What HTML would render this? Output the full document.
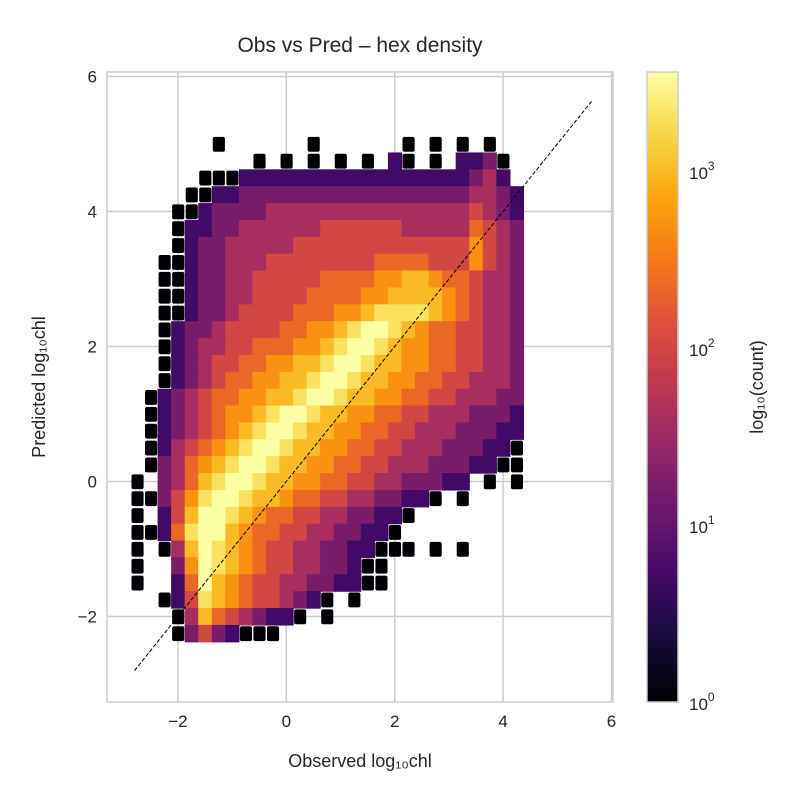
<!DOCTYPE html>
<html><head><meta charset="utf-8"><style>
body{margin:0;background:#fff;}
svg text{font-family:"Liberation Sans","DejaVu Sans",sans-serif;fill:#262626;}
</style></head><body>
<svg id="chart" width="800" height="800" viewBox="0 0 800 800" xmlns="http://www.w3.org/2000/svg">
<defs>
<linearGradient id="inferno" x1="0" y1="1" x2="0" y2="0">
<stop offset="0" stop-color="rgb(0,0,4)"/><stop offset="0.1" stop-color="rgb(22,11,57)"/>
<stop offset="0.2" stop-color="rgb(66,10,104)"/><stop offset="0.3" stop-color="rgb(106,23,110)"/>
<stop offset="0.4" stop-color="rgb(147,38,103)"/><stop offset="0.5" stop-color="rgb(188,55,84)"/>
<stop offset="0.6" stop-color="rgb(221,81,58)"/><stop offset="0.7" stop-color="rgb(243,120,25)"/>
<stop offset="0.8" stop-color="rgb(252,165,10)"/><stop offset="0.9" stop-color="rgb(246,215,70)"/>
<stop offset="1" stop-color="rgb(252,255,164)"/>
</linearGradient>
<clipPath id="clip"><rect x="107" y="72" width="506" height="630"/></clipPath>
</defs>
<text x="360" y="52" font-size="21" text-anchor="middle">Obs vs Pred – hex density</text>
<g id="grid"></g>
<g id="cells" clip-path="url(#clip)"></g>
<line id="diag" stroke="#000" stroke-width="1" stroke-dasharray="4,2"/>
<rect x="107" y="72" width="506" height="630" fill="none" stroke="#ccc" stroke-width="1.5"/>
<g id="ticks"></g>
<text x="360" y="767" font-size="18" text-anchor="middle">Observed log₁₀chl</text>
<text transform="translate(45,387) rotate(-90)" font-size="18" text-anchor="middle">Predicted log₁₀chl</text>
<rect x="647" y="72" width="31" height="630" fill="url(#inferno)" stroke="#ccc" stroke-width="1.5"/>
<g id="cbticks"></g>
<text transform="translate(763,387) rotate(-90)" font-size="18" text-anchor="middle">log₁₀(count)</text>
</svg>
<script>
const xTicks=[-2,0,2,4,6];
const yTicks=[-2,0,2,4,6];
const cbDecades=[0,1,2,3];
const rowY=[5.0,4.75,4.5,4.25,4.0,3.75,3.5,3.25,3.0,2.75,2.5,2.25,2.0,1.75,1.5,1.25,1.0,0.75,0.5,0.25,0.0,-0.25,-0.5,-0.75,-1.0,-1.25,-1.5,-1.75,-2.0,-2.25];
const colX0=-2.75, colStep=0.25;
// log10(count) for each density level digit 0..9
const levelLog=[0,0.7,1.2,1.6,2.0,2.35,2.7,3.0,3.3,3.56];
const levels=[
"......0......0......0.0.0.0...",
".........0.0.0.0.0.10.0.1120..",
".....00011111111111111111231..",
"....0011222222222222222223321.",
"...00122223333333333333334321.",
"...01122333333444444333335432.",
"...01223333344444444444446432.",
"..001223334444444455554446432.",
"..001223344444555566776554332.",
"..001223344445555667777654332.",
"..001223444455566788887654332.",
"..012234444556678998765544332.",
"..012334455566789987665544332.",
"..012344556677899877665544332.",
"..012345566778998776655443332.",
".0123455667789987766554433322.",
".0123456678998776655443332221.",
".0123456789987766554433322211.",
".0134567899877665544333222110.",
".0235678998776655443332221100.",
"0.23578998776655443322211 0.0.",
"00246899877655443322110.0.....",
"0.1479987655443322110.........",
"00158997655443322110..........",
"0.0379876544332211000.0.0.....",
"0..2698765443322100...........",
"0..1597654433221100...........",
"..0148765443210.0.............",
"...0375432110.0...............",
"...02421000..................."];
const logMax=3.56;
const X0=286.3, XS=54.2, Y0=481.5, YS=67.5;
const sx=v=>X0+v*XS, sy=v=>Y0-v*YS;
const NS='http://www.w3.org/2000/svg';
const stops=[[0,0,4],[22,11,57],[66,10,104],[106,23,110],[147,38,103],[188,55,84],[221,81,58],[243,120,25],[252,165,10],[246,215,70],[252,255,164]];
function cmap(t){t=Math.max(0,Math.min(1,t))*10;const i=Math.min(9,Math.floor(t)),f=t-i;const a=stops[i],b=stops[i+1];
return `rgb(${Math.round(a[0]+(b[0]-a[0])*f)},${Math.round(a[1]+(b[1]-a[1])*f)},${Math.round(a[2]+(b[2]-a[2])*f)})`;}
const grid=document.getElementById('grid'),ticks=document.getElementById('ticks');
xTicks.forEach(v=>{
 const l=document.createElementNS(NS,'line');
 
 
 l.setAttribute('x1',sx(v));l.setAttribute('x2',sx(v));l.setAttribute('y1',72);l.setAttribute('y2',702);
 l.setAttribute('stroke','#ccc');l.setAttribute('stroke-width','1.5');grid.appendChild(l);
 const t=document.createElementNS(NS,'text');
 
 
 t.setAttribute('x',sx(v));t.setAttribute('y',727);t.setAttribute('font-size','17');t.setAttribute('text-anchor','middle');
 t.textContent=v<0?'−'+Math.abs(v):String(v);ticks.appendChild(t);
});
yTicks.forEach(v=>{
 const l=document.createElementNS(NS,'line');
 
 
 l.setAttribute('y1',sy(v));l.setAttribute('y2',sy(v));l.setAttribute('x1',107);l.setAttribute('x2',613);
 l.setAttribute('stroke','#ccc');l.setAttribute('stroke-width','1.5');grid.appendChild(l);
 const t=document.createElementNS(NS,'text');
 
 
 t.setAttribute('x',97);t.setAttribute('y',sy(v)+6);t.setAttribute('font-size','17');t.setAttribute('text-anchor','end');
 t.textContent=v<0?'−'+Math.abs(v):String(v);ticks.appendChild(t);
});
const cells=document.getElementById('cells');
const cw=colStep*XS, ch=0.25*YS;
levels.forEach((row,r)=>{
 for(let c=0;c<Math.min(row.length,29);c++){
  const d=row[c]; if(d<'0'||d>'9') continue;
  const x=colX0+c*colStep, y=rowY[r];
  const k=(d==='0')?0.85:1;
  const rc=document.createElementNS(NS,'rect');
  
  
  rc.setAttribute('x',sx(x)-cw*k/2);rc.setAttribute('y',sy(y)-ch*k/2);
  rc.setAttribute('width',cw*k+0.6);rc.setAttribute('height',ch*k+0.6);
  if(k<1){rc.setAttribute('rx',2);}
  rc.setAttribute('fill',cmap(levelLog[+d]/logMax));
  cells.appendChild(rc);
 }
});
const diag=document.getElementById('diag');
diag.setAttribute('x1',sx(-2.8));diag.setAttribute('y1',sy(-2.8));diag.setAttribute('x2',sx(5.65));diag.setAttribute('y2',sy(5.65));
const cb=document.getElementById('cbticks');
cbDecades.forEach(k=>{
 const y=702-k*(630/logMax);
 const t=document.createElementNS(NS,'text');
 
 
 t.setAttribute('x',689);t.setAttribute('y',y+8);t.setAttribute('font-size','17');
 t.innerHTML='10<tspan dy="-9" font-size="12">'+k+'</tspan>';
 cb.appendChild(t);
});
</script>
</body></html>
